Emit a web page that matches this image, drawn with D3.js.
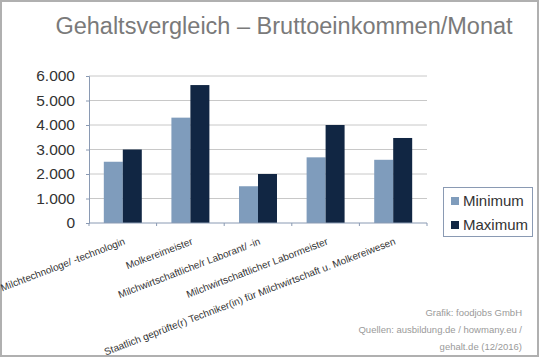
<!DOCTYPE html>
<html><head><meta charset="utf-8">
<script src="https://cdn.jsdelivr.net/npm/d3@7"></script>
<style>body{margin:0;background:#fff}svg{display:block}</style>
</head><body>
<svg id="c" width="540" height="358"></svg>
<script>
const categories = ["Milchtechnologe/ -technologin","Molkereimeister","Milchwirtschaftliche/r Laborant/ -in","Milchwirtschaftlicher Labormeister","Staatlich geprüfte(r) Techniker(in) für Milchwirtschaft u. Molkereiwesen"];
const seriesNames = ["Minimum","Maximum"];
const minimum = [2500,4300,1500,2680,2580];
const maximum = [3000,5630,2000,4000,3470];
const yTicks = [0,1000,2000,3000,4000,5000,6000];
const colors = ["#7f9cbc","#112643"];

const svg = d3.select("#c");
const font = "'Liberation Sans', Arial, sans-serif";
svg.append("rect").attr("x",1).attr("y",1).attr("width",537).attr("height",355)
  .attr("fill","#fff").attr("stroke","#b0b0b0").attr("stroke-width",2);

svg.append("text").attr("x",284).attr("y",34).attr("text-anchor","middle")
  .attr("font-family",font).attr("font-size",23.5).attr("fill","#7a7a7a")
  .text("Gehaltsvergleich – Bruttoeinkommen/Monat");

const L=89,R=427,T=76,B=223;
const x = d3.scaleBand().domain(categories).range([L,R]).paddingInner(0).paddingOuter(0);
const inner = d3.scaleBand().domain(seriesNames).range([0,x.bandwidth()]).paddingInner(0).paddingOuter(0.78);
const y = d3.scaleLinear().domain([0,6000]).range([B,T]);

// gridlines
svg.append("g").selectAll("line").data(yTicks.filter(d=>d>0)).join("line")
  .attr("x1",L).attr("x2",R).attr("y1",d=>y(d)).attr("y2",d=>y(d))
  .attr("stroke","#c8c8c8").attr("stroke-width",1);

const data = categories.map((c,i)=>({c,vals:[minimum[i],maximum[i]]}));
const g = svg.append("g");
data.forEach(d=>{
  d.vals.forEach((v,j)=>{
    g.append("rect").attr("x",x(d.c)+inner(seriesNames[j])).attr("y",y(v))
      .attr("width",inner.bandwidth()).attr("height",y(0)-y(v)).attr("fill",colors[j]);
  });
});

// y axis
const ya = svg.append("g").attr("transform",`translate(${L},0)`)
  .call(d3.axisLeft(y).tickValues(yTicks).tickSize(3).tickPadding(11)
    .tickFormat(d=>d===0?"0":d3.format(",")(d).replace(/,/g,".")));
ya.select(".domain").attr("stroke","#8a9ab3");
ya.selectAll(".tick line").attr("stroke","#8a9ab3");
ya.selectAll("text").attr("font-family",font).attr("font-size",15.5).attr("fill","#333");

// x axis
const xa = svg.append("g").attr("transform",`translate(0,${B})`);
xa.append("line").attr("x1",L).attr("x2",R).attr("stroke","#8a9ab3");
const bounds = categories.map(c=>x(c)).concat([R]);
xa.selectAll("line.t").data(bounds).join("line").attr("class","t")
  .attr("x1",d=>d).attr("x2",d=>d).attr("y1",0).attr("y2",3).attr("stroke","#8a9ab3");
xa.selectAll("text").data(categories).join("text")
  .attr("transform",d=>`translate(${x(d)+x.bandwidth()/2+3},${21}) rotate(-21)`)
  .attr("text-anchor","end").attr("font-family",font).attr("font-size",10)
  .attr("fill","#333").text(d=>d);

// legend
const lg = svg.append("g");
lg.append("rect").attr("x",443.5).attr("y",187.5).attr("width",89).attr("height",49)
  .attr("fill","#fff").attr("stroke","#8a9ab3");
seriesNames.forEach((s,j)=>{
  lg.append("rect").attr("x",451).attr("y",197+j*24).attr("width",8).attr("height",8).attr("fill",colors[j]);
  lg.append("text").attr("x",463).attr("y",206+j*24).attr("font-family",font).attr("font-size",15)
    .attr("fill","#333").text(s);
});

// footer
const foot = ["Grafik: foodjobs GmbH","Quellen: ausbildung.de / howmany.eu /","gehalt.de (12/2016)"];
svg.append("g").selectAll("text").data(foot).join("text")
  .attr("x",522).attr("y",(d,i)=>316+i*17).attr("text-anchor","end")
  .attr("font-family",font).attr("font-size",9.5).attr("fill","#9a9a9a").text(d=>d);
</script>
</body></html>
